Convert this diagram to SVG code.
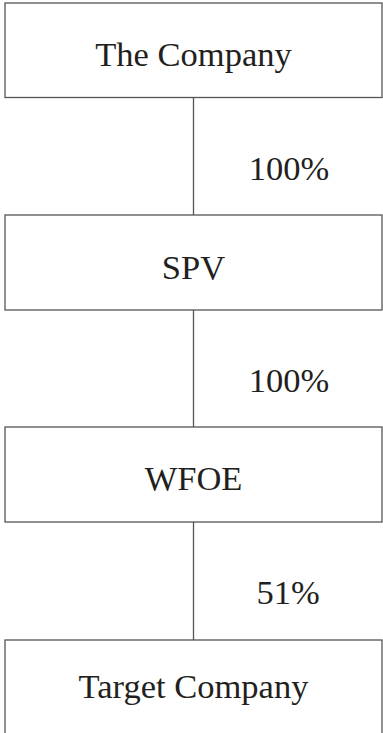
<svg xmlns="http://www.w3.org/2000/svg" width="383" height="733" viewBox="0 0 383 733">
<style>
.box{fill:#ffffff;stroke:#555555;stroke-width:1.3}
.lbl{font-family:"Liberation Serif","Times New Roman",serif;font-size:34.5px;fill:#231f20;text-anchor:middle}
.con{stroke:#555555;stroke-width:1.3;fill:none}
</style>
<rect width="383" height="733" fill="#ffffff"/>
<g id="connectors">
<line class="con" x1="193.5" y1="97.5" x2="193.5" y2="215"/>
<line class="con" x1="193.5" y1="310" x2="193.5" y2="427"/>
<line class="con" x1="193.5" y1="522" x2="193.5" y2="640"/>
<text class="lbl" x="289" y="180">100%</text>
<text class="lbl" x="289" y="392">100%</text>
<text class="lbl" x="288" y="604">51%</text>
</g>
<g id="company">
<rect class="box" x="5" y="3" width="377" height="94.5"/>
<text class="lbl" x="193.5" y="66">The Company</text>
</g>
<g id="spv">
<rect class="box" x="5" y="215" width="377" height="95"/>
<text class="lbl" x="193.5" y="279">SPV</text>
</g>
<g id="wfoe">
<rect class="box" x="5" y="427" width="377" height="95"/>
<text class="lbl" x="193.5" y="490">WFOE</text>
</g>
<g id="target">
<rect class="box" x="5" y="640" width="377" height="100"/>
<text class="lbl" x="193.5" y="698">Target Company</text>
</g>
</svg>
